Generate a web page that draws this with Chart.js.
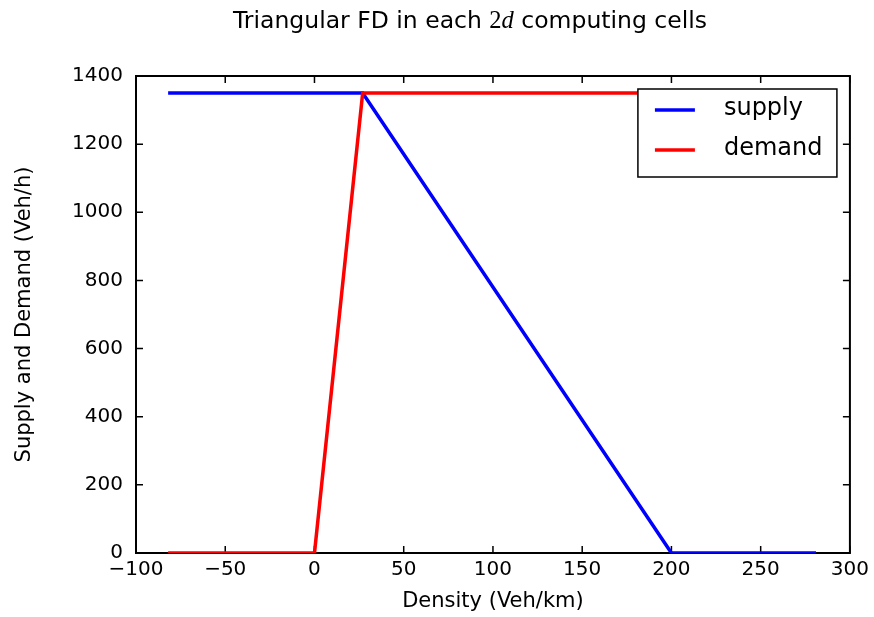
<!DOCTYPE html>
<html>
<head>
<meta charset="utf-8">
<script src="https://cdn.jsdelivr.net/npm/chart.js@4"></script>
<style>
  body { margin: 0; background: #fff; }
  canvas { display: block; }
</style>
</head>
<body>
<canvas id="fdChart" width="874" height="617"></canvas>
<script>
// Triangular fundamental diagram: density (veh/km) vs flow (veh/h)
const supplyDensity = [-82, 27, 200, 281];
const supplyFlow = [1350, 1350, 0, 0];
const demandDensity = [-82, 0, 27, 281];
const demandFlow = [0, 0, 1350, 1350];
const seriesNames = ["supply", "demand"];
const seriesColors = ["#0000ff", "#ff0000"];

const FONT = "'DejaVu Sans', sans-serif";

// title mixes plain text with a math-style "2d"
const titleParts = [
  { text: "Triangular FD in each ", font: "23.5px " + FONT },
  { text: "2", font: "24.5px 'Liberation Serif', serif" },
  { text: "d", font: "italic 24.5px 'Liberation Serif', serif" },
  { text: " computing cells", font: "23.5px " + FONT },
];

function toPoints(xs, ys) {
  return xs.map((x, i) => ({ x: x, y: ys[i] }));
}

function minusSign(value) {
  return String(value).replace("-", "\u2212");
}

const titlePlugin = {
  id: "mixedTitle",
  afterDraw(chart) {
    const ctx = chart.ctx;
    ctx.save();
    ctx.fillStyle = "#000";
    ctx.textBaseline = "middle";
    let total = 0;
    titleParts.forEach((p) => {
      ctx.font = p.font;
      p.width = ctx.measureText(p.text).width;
      total += p.width;
    });
    let x = 470 - total / 2;
    titleParts.forEach((p) => {
      ctx.font = p.font;
      ctx.fillText(p.text, x, 22);
      x += p.width;
    });
    ctx.restore();
  },
};

// axes box with short inward ticks on every side (drawn under the lines)
const framePlugin = {
  id: "frame",
  beforeDatasetsDraw(chart) {
    const { ctx, chartArea: a, scales } = chart;
    const len = 7;
    ctx.save();
    ctx.strokeStyle = "#000";
    ctx.lineWidth = 1.5;
    ctx.beginPath();
    scales.x.ticks.forEach((t) => {
      const px = scales.x.getPixelForValue(t.value);
      ctx.moveTo(px, a.bottom);
      ctx.lineTo(px, a.bottom - len);
      ctx.moveTo(px, a.top);
      ctx.lineTo(px, a.top + len);
    });
    scales.y.ticks.forEach((t) => {
      const py = scales.y.getPixelForValue(t.value);
      ctx.moveTo(a.left, py);
      ctx.lineTo(a.left + len, py);
      ctx.moveTo(a.right, py);
      ctx.lineTo(a.right - len, py);
    });
    ctx.stroke();
    ctx.lineWidth = 2;
    ctx.strokeRect(a.left, a.top, a.width, a.height);
    ctx.restore();
  },
};

const legendPlugin = {
  id: "boxLegend",
  afterDraw(chart) {
    const { ctx, chartArea: a } = chart;
    const w = 199;
    const h = 88;
    const left = a.right - 13 - w;
    const top = a.top + 13;
    ctx.save();
    ctx.fillStyle = "#fff";
    ctx.fillRect(left, top, w, h);
    ctx.strokeStyle = "#000";
    ctx.lineWidth = 1.5;
    ctx.strokeRect(left, top, w, h);
    ctx.font = "24px " + FONT;
    ctx.textBaseline = "middle";
    seriesNames.forEach((name, i) => {
      const y = top + 21 + i * 40;
      ctx.strokeStyle = seriesColors[i];
      ctx.lineWidth = 3.5;
      ctx.beginPath();
      ctx.moveTo(left + 17, y);
      ctx.lineTo(left + 57, y);
      ctx.stroke();
      ctx.fillStyle = "#000";
      ctx.fillText(name, left + 86, y - 1);
    });
    ctx.restore();
  },
};

const tickFont = { family: FONT, size: 20 };
const labelFont = { family: FONT, size: 21 };

new Chart(document.getElementById("fdChart"), {
  type: "line",
  data: {
    datasets: [
      {
        label: seriesNames[0],
        data: toPoints(supplyDensity, supplyFlow),
        borderColor: seriesColors[0],
        borderWidth: 3.5,
        pointRadius: 0,
        tension: 0,
        clip: 0,
        order: 1,
      },
      {
        label: seriesNames[1],
        data: toPoints(demandDensity, demandFlow),
        borderColor: seriesColors[1],
        borderWidth: 3.5,
        pointRadius: 0,
        tension: 0,
        clip: 0,
        order: 0,
      },
    ],
  },
  options: {
    responsive: false,
    animation: false,
    events: [],
    layout: { padding: { top: 76, right: 23, bottom: 0, left: 0 } },
    plugins: {
      legend: { display: false },
      tooltip: { enabled: false },
    },
    scales: {
      x: {
        type: "linear",
        min: -100,
        max: 300,
        grid: { display: false, drawTicks: false },
        border: { display: false },
        ticks: {
          stepSize: 50,
          padding: 5,
          color: "#000",
          font: tickFont,
          maxRotation: 0,
          autoSkip: false,
          callback: minusSign,
        },
        title: {
          display: true,
          text: "Density (Veh/km)",
          color: "#000",
          font: labelFont,
          padding: { top: 0, bottom: 3 },
        },
        afterFit(scale) {
          scale.height = 64;
        },
      },
      y: {
        min: 0,
        max: 1400,
        grid: { display: false, drawTicks: false },
        border: { display: false },
        ticks: {
          stepSize: 200,
          padding: 13,
          color: "#000",
          font: tickFont,
          callback: (value) => String(value),
        },
        title: {
          display: true,
          text: "Supply and Demand (Veh/h)",
          color: "#000",
          font: labelFont,
          padding: { top: 12, bottom: 0 },
        },
        afterFit(scale) {
          scale.width = 136;
        },
      },
    },
  },
  plugins: [framePlugin, legendPlugin, titlePlugin],
});
</script>
</body>
</html>
